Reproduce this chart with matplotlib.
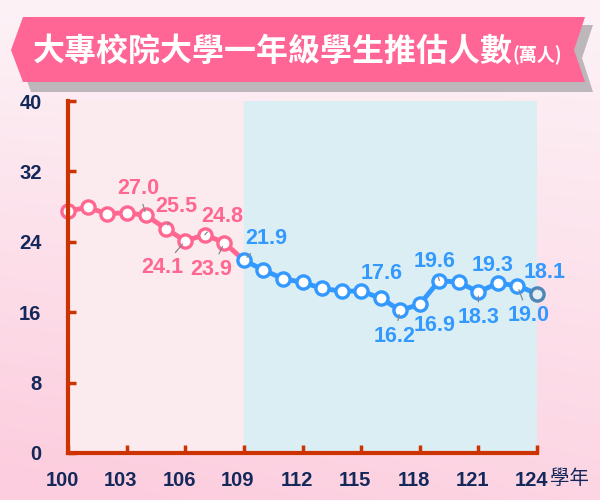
import numpy as np
import matplotlib
matplotlib.use('Agg')
import matplotlib.pyplot as plt
import matplotlib.transforms as mtrans
from matplotlib.patches import Polygon

# data (萬人)
years_hist = [100, 101, 102, 103, 104, 105, 106, 107, 108, 109]
vals_hist = [27.5, 27.9, 27.2, 27.3, 27.0, 25.5, 24.1, 24.8, 23.9, 21.9]
years_proj = [109, 110, 111, 112, 113, 114, 115, 116, 117, 118, 119, 120, 121, 122, 123, 124]
vals_proj = [21.9, 20.8, 19.8, 19.4, 18.7, 18.4, 18.4, 17.6, 16.2, 16.9, 19.6, 19.4, 18.3, 19.3, 19.0, 18.1]
xticks = [100, 103, 106, 109, 112, 115, 118, 121, 124]
yticks = [0, 8, 16, 24, 32, 40]
title_main = '大專校院大學一年級學生推估人數'
title_unit = '(萬人)'
xunit = '學年'

# which points get a label: year -> (dx, dy) in pixels, leader line?
label_pos = {
    104: (-8, 27, True), 105: (11, 22, True), 106: (-23, -27, True),
    107: (17, 18, True), 108: (-13, -27, True), 109: (22, 22, True),
    116: (1, 25, False), 117: (-6, -26, True), 118: (15, -21, False),
    119: (-5, 19, True), 121: (0, -26, True), 122: (-5, 18, False),
    123: (11, -30, True), 124: (8, 21, True),
}

PINK = '#FF6690'
BLUE = '#3399FF'
AXC = '#CC3300'
NAVY = '#14285A'
NUMFONT = ['Liberation Sans', 'DejaVu Sans']
CJK = ['Noto Sans CJK TC', 'DejaVu Sans']

W, H = 600, 500
fig = plt.figure(figsize=(6, 5), dpi=100)

# background gradient
bg = fig.add_axes([0, 0, 1, 1], zorder=-10)
gy = np.linspace(0, 1, 200)[:, None]
gx = np.linspace(0, 1, 300)[None, :]
t = np.clip(gy * 0.8 + (1 - gx) * 0.25 * gy, 0, 1)
top = np.array([253, 243, 247]) / 255
bot = np.array([252, 205, 222]) / 255
img = top[None, None, :] * (1 - t[..., None]) + bot[None, None, :] * t[..., None]
bg.imshow(img, aspect='auto', extent=[0, 1, 0, 1], origin='upper')
bg.set_xlim(0, 1)
bg.set_ylim(0, 1)
bg.axis('off')

def px(x, y):
    return (x / W, 1 - y / H)

# title ribbon
shadow = [px(31, 25), px(593, 25), px(582, 58), px(593, 92), px(31, 92), px(19, 58)]
ribbon = [px(23, 17), px(585, 17), px(574, 50), px(585, 82), px(23, 82), px(11, 50)]
fig.patches.append(Polygon(shadow, closed=True, transform=fig.transFigure,
                           facecolor='#BDB6BA', edgecolor='none', zorder=1))
fig.patches.append(Polygon(ribbon, closed=True, transform=fig.transFigure,
                           facecolor='#FF6595', edgecolor='none', zorder=2))
fig.text(33 / W, 1 - 61 / H, title_main, color='white', fontsize=23,
         fontweight='bold', family=CJK, ha='left', va='baseline', zorder=3)
fig.text(512 / W, 1 - 61 / H, title_unit, color='white', fontsize=13,
         fontweight='bold', family=CJK, ha='left', va='baseline', zorder=3)

# main axes
ax = fig.add_axes([68 / W, 1 - 453 / H, (537 - 68) / W, (453 - 101) / H])
ax.patch.set_alpha(0)
ax.axvspan(100, 109, color='#FBEBEE', zorder=0)
ax.axvspan(109, 124, color='#DAEEF4', zorder=0)
ax.set_xlim(100, 124)
ax.set_ylim(0, 40)

ax.plot(years_hist, vals_hist, color=PINK, lw=3.5, zorder=3, clip_on=False)
ax.plot(years_hist[:-1], vals_hist[:-1], 'o', ms=9.5, mfc='white', mec=PINK,
        mew=2.4, zorder=4, clip_on=False)
ax.plot(years_proj, vals_proj, color=BLUE, lw=3.5, zorder=3, clip_on=False)
ax.plot(years_proj[:-1], vals_proj[:-1], 'o', ms=9.5, mfc='white', mec=BLUE,
        mew=2.4, zorder=4, clip_on=False)
ax.plot(years_proj[-1:], vals_proj[-1:], 'o', ms=9.5, mfc='#E3EEF5', mec='#4F86B8',
        mew=2.4, zorder=4, clip_on=False)

allv = dict(zip(years_hist, vals_hist))
allv.update(dict(zip(years_proj, vals_proj)))
for yr, (dx, dy, lead) in label_pos.items():
    v = allv[yr]
    col = PINK if yr < 109 else BLUE
    ap = dict(arrowstyle='-', color='#888888', lw=0.9, shrinkA=2, shrinkB=3) if lead else None
    ax.annotate(f'{v:.1f}', xy=(yr, v), xytext=(dx, dy), textcoords='offset pixels',
                ha='center', va='center', color=col, fontsize=15.5, fontweight='bold',
                family=NUMFONT, arrowprops=ap, zorder=6, annotation_clip=False)

for s in ['top', 'right']:
    ax.spines[s].set_visible(False)
for s in ['left', 'bottom']:
    ax.spines[s].set_color(AXC)
    ax.spines[s].set_linewidth(3)
    ax.spines[s].set_zorder(5)

ax.set_xticks(xticks)
ax.set_yticks(yticks)
ax.tick_params(axis='both', direction='in', length=6, width=2.5, color=AXC,
               labelcolor=NAVY, labelsize=14.5)
ax.tick_params(axis='x', pad=13)
ax.tick_params(axis='y', pad=19)
shift = mtrans.ScaledTranslation(-6 / 100, 0, fig.dpi_scale_trans)
for lab in ax.get_xticklabels():
    lab.set_transform(lab.get_transform() + shift)
for lab in ax.get_xticklabels() + ax.get_yticklabels():
    lab.set_fontweight('bold')
    lab.set_family(NUMFONT)

fig.text(550 / W, 1 - 478 / H, xunit, color=NAVY, fontsize=14, family=CJK,
         ha='left', va='center')

fig.savefig('out.png', dpi=100)
